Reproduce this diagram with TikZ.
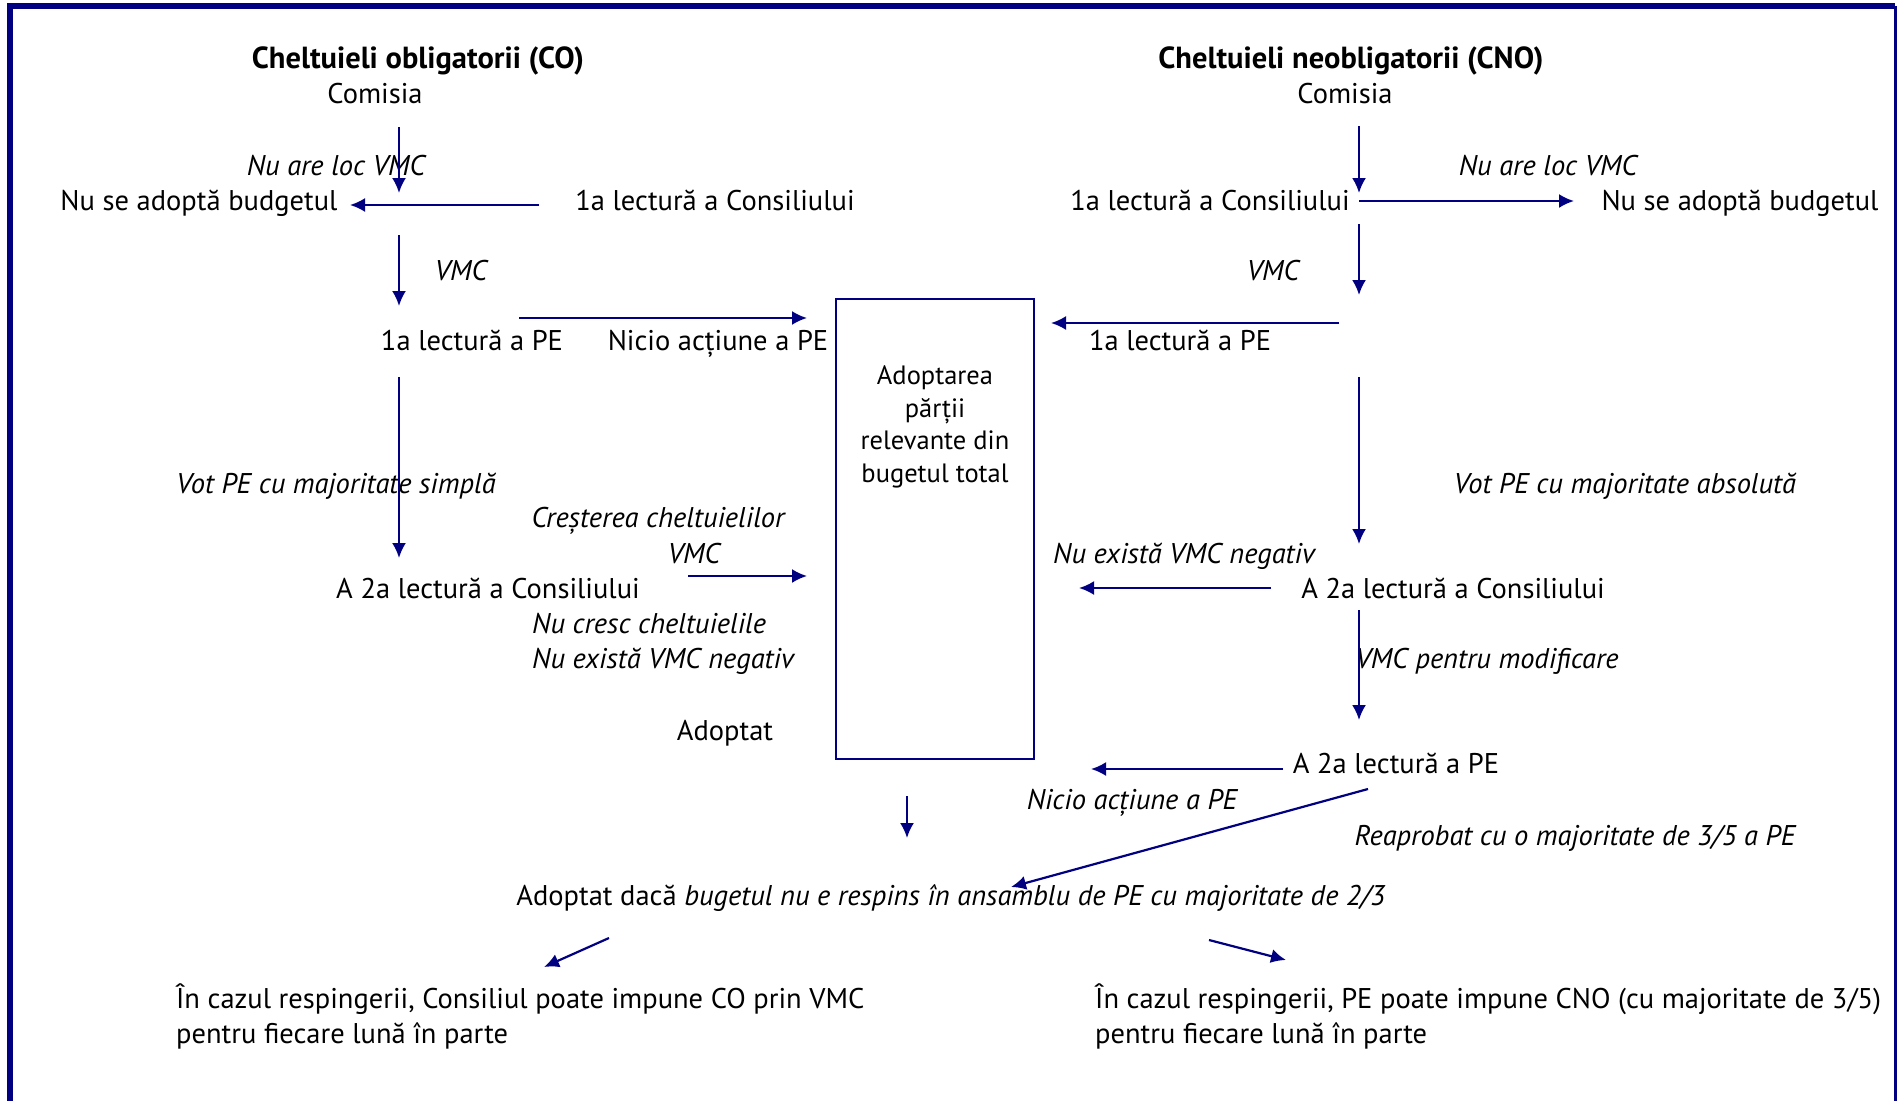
\documentclass[tikz,border=0pt]{standalone}
\usepackage{fontspec}
\setmainfont{PT Sans}
\usetikzlibrary{arrows.meta}
\definecolor{navy}{RGB}{0,0,128}
\begin{document}
\begin{tikzpicture}[x=1pt,y=-1pt,
  txt/.style={inner sep=0pt,anchor=base,font=\fontsize{28.5}{34}\selectfont},
  itx/.style={inner sep=0pt,anchor=base,font=\fontsize{28.5}{34}\selectfont\itshape},
  bld/.style={inner sep=0pt,anchor=base,font=\fontsize{30.5}{36}\selectfont\bfseries},
  arr/.style={navy,line width=2.2pt,-{Latex[length=15pt,width=14pt]}},
  frame/.style={navy,line width=6pt},
  boxst/.style={draw=navy,line width=2.5pt,minimum width=198pt,minimum height=460pt,inner sep=0pt}
]
\useasboundingbox (0,0) rectangle (1897,1100);
% frame
\draw[frame] (10,1106) -- (10,6) -- (1895,6);
\draw[navy,line width=3pt] (1895.5,6) -- (1895.5,1106);

% titles
\node[bld] (t1) at (418,68) {Cheltuieli obligatorii (CO)};
\node[txt] (c1) at (375,103) {Comisia};
\node[bld] (t2) at (1351,68) {Cheltuieli neobligatorii (CNO)};
\node[txt] (c2) at (1345,103) {Comisia};

% left column
\node[itx] (nl1) at (336,175) {Nu are loc VMC};
\node[txt] (nb1) at (199,210) {Nu se adoptă budgetul};
\node[txt] (lc1) at (715,210) {1a lectură a Consiliului};
\node[itx] (v1) at (461,280) {VMC};
\node[txt] (lp1) at (472,350) {1a lectură a PE};
\node[txt] (na1) at (718,350) {Nicio acțiune a PE};
\node[itx] (vs1) at (336,493) {Vot PE cu majoritate simplă};
\node[itx] (cr) at (658,527) {Creșterea cheltuielilor};
\node[itx] (v2) at (694,563) {VMC};
\node[txt] (ac1) at (488,598) {A 2a lectură a Consiliului};
\node[itx,anchor=base west] (nc) at (532,633) {Nu cresc cheltuielile};
\node[itx,anchor=base west] (ne1) at (532,668) {Nu există VMC negativ};
\node[txt] (ad) at (725,740) {Adoptat};

% central box
\node[boxst] (box) at (935,529) {};
\node[txt,align=center,font=\fontsize{26.5}{32.5}\selectfont] (boxt) at (935,482) {Adoptarea\\părții\\relevante din\\bugetul total};

% right column
\node[txt] (lc2) at (1210,210) {1a lectură a Consiliului};
\node[itx] (nl2) at (1548,175) {Nu are loc VMC};
\node[txt] (nb2) at (1740,210) {Nu se adoptă budgetul};
\node[itx] (v3) at (1273,280) {VMC};
\node[txt] (lp2) at (1180,350) {1a lectură a PE};
\node[itx] (va) at (1625,493) {Vot PE cu majoritate absolută};
\node[itx] (ne2) at (1184,563) {Nu există VMC negativ};
\node[txt] (ac2) at (1453,598) {A 2a lectură a Consiliului};
\node[itx] (vm) at (1487,668) {VMC pentru modificare};
\node[txt] (ap2) at (1396,773) {A 2a lectură a PE};
\node[itx] (na2) at (1132,809) {Nicio acțiune a PE};
\node[itx] (re) at (1575,845) {Reaprobat cu o majoritate de 3/5 a PE};

% bottom
\node[txt] (fin) at (951,905) {Adoptat dacă \textit{bugetul nu e respins în ansamblu de PE cu majoritate de 2/3}};
\node[txt,anchor=base west,align=left,font=\fontsize{28.5}{35}\selectfont] (bl) at (176,1043) {În cazul respingerii, Consiliul poate impune CO prin VMC\\pentru fiecare lună în parte};
\node[txt,anchor=base west,align=left,font=\fontsize{28.5}{35}\selectfont] (br) at (1095,1043) {În cazul respingerii, PE poate impune CNO (cu majoritate de 3/5)\\pentru fiecare lună în parte};

% arrow end points
\coordinate (a1s) at (399,127);  \coordinate (a1e) at (399,193);
\coordinate (a2s) at (539,205);  \coordinate (a2e) at (350,205);
\coordinate (a3s) at (399,235);  \coordinate (a3e) at (399,306);
\coordinate (a4s) at (519,318);  \coordinate (a4e) at (807,318);
\coordinate (a5s) at (399,377);  \coordinate (a5e) at (399,558);
\coordinate (a6s) at (688,576);  \coordinate (a6e) at (807,576);
\coordinate (a7s) at (1359,126); \coordinate (a7e) at (1359,193);
\coordinate (a8s) at (1359,201); \coordinate (a8e) at (1574,201);
\coordinate (a9s) at (1359,224); \coordinate (a9e) at (1359,295);
\coordinate (a10s) at (1339,323); \coordinate (a10e) at (1051,323);
\coordinate (a11s) at (1359,377); \coordinate (a11e) at (1359,544);
\coordinate (a12s) at (1271,588); \coordinate (a12e) at (1079,588);
\coordinate (a13s) at (1359,610); \coordinate (a13e) at (1359,720);
\coordinate (a14s) at (1283,769); \coordinate (a14e) at (1091,769);
\coordinate (a15s) at (1368,789); \coordinate (a15e) at (1011,887);
\coordinate (a16s) at (907,796);  \coordinate (a16e) at (907,838);
\coordinate (a17s) at (609,938);  \coordinate (a17e) at (544,967);
\coordinate (a18s) at (1209,940); \coordinate (a18e) at (1286,960);

\foreach \i in {1,...,18} {\draw[arr] (a\i s) -- (a\i e);}
\end{tikzpicture}
\end{document}
